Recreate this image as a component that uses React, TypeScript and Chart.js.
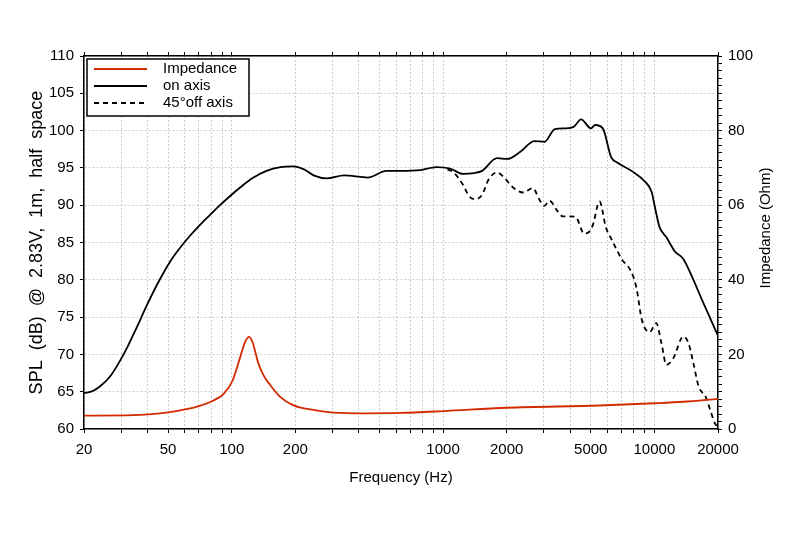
import { useEffect, useRef } from 'react';
import { Chart, registerables } from 'chart.js';

Chart.register(...registerables);

// on-axis SPL response (Hz, dB)
const onAxisFreq = [20, 22, 24, 26.5, 29, 32, 35.5, 40, 45.6, 51, 57, 63, 71, 79, 88, 98, 110, 125, 146, 170, 195, 220, 244, 282, 340, 407, 440, 540, 630, 780, 930, 1080, 1245, 1400, 1530, 1800, 2010, 2330, 2700, 3020, 3380, 3780, 4150, 4500, 5010, 5250, 5700, 6250, 6700, 7900, 9000, 9700, 10100, 10570, 11400, 12500, 13700, 15300, 16800, 18400, 20000];
const onAxisSpl = [64.8, 65.1, 65.8, 67.0, 68.7, 70.9, 73.6, 76.8, 80.0, 82.4, 84.3, 85.8, 87.4, 88.7, 90.0, 91.2, 92.4, 93.6, 94.6, 95.1, 95.2, 94.8, 94.0, 93.6, 94.0, 93.8, 93.7, 94.6, 94.6, 94.7, 95.1, 94.9, 94.2, 94.3, 94.6, 96.3, 96.2, 97.2, 98.6, 98.5, 100.2, 100.3, 100.5, 101.5, 100.3, 100.75, 100.3, 96.4, 95.7, 94.5, 93.2, 91.8, 89.5, 87.1, 85.7, 83.8, 82.8, 80.0, 77.3, 74.8, 72.5];

// 45 degree off-axis response (Hz, dB)
const offAxisFreq = [1050, 1120, 1245, 1330, 1420, 1530, 1640, 1800, 1900, 2160, 2400, 2660, 2850, 3010, 3200, 3440, 3690, 4000, 4250, 4650, 4850, 5110, 5500, 5900, 6250, 6530, 7030, 7700, 8200, 8730, 9500, 10200, 10800, 11400, 12300, 13700, 14500, 15300, 16200, 17500, 18400, 19300, 20000];
const offAxisSpl = [94.8, 94.4, 92.7, 91.2, 90.8, 91.4, 93.4, 94.4, 94.0, 92.3, 91.7, 92.3, 90.8, 89.9, 90.6, 89.4, 88.5, 88.5, 88.4, 86.2, 86.3, 87.3, 90.5, 87.0, 85.5, 84.4, 82.7, 81.3, 79.1, 74.6, 73.0, 74.2, 71.5, 68.6, 69.5, 72.4, 71.5, 68.8, 65.7, 64.3, 62.5, 60.8, 60.2];

// impedance (Hz, Ohm)
const impFreq = [20, 34, 49, 61, 70.6, 81, 91.6, 101, 109.6, 115.6, 121, 126, 133, 141, 152, 169, 195, 244, 303, 434, 626, 1000, 2000, 5500, 10000, 13700, 20000];
const impOhm = [3.6, 3.7, 4.4, 5.3, 6.2, 7.5, 9.4, 13.0, 19.2, 23.3, 24.7, 23.0, 18.0, 14.5, 11.8, 8.7, 6.4, 5.1, 4.4, 4.2, 4.3, 4.8, 5.7, 6.3, 6.9, 7.3, 8.1];

// axis ticks
const freqGridTicks = [20, 30, 40, 50, 60, 70, 80, 90, 100, 200, 300, 400, 500, 600, 700, 800, 900, 1000, 2000, 3000, 4000, 5000, 6000, 7000, 8000, 9000, 10000, 20000];
const freqTickLabels = [20, 50, 100, 200, 1000, 2000, 5000, 10000, 20000];
const impTickValues = [0, 20, 40, 60, 80, 100];
const impTickLabels = ['0', '20', '40', '06', '80', '100'];

const seriesLabels = ['Impedance', 'on axis', '45°off axis'];
const impTitle = 'Impedance (Ohm)';

const FONT = 'Liberation Sans';

const pts = (xs: number[], ys: number[]) => xs.map((x, i) => ({ x, y: ys[i] }));

const legendPlugin = {
  id: 'boxLegend',
  afterDraw(chart: any) {
    const { ctx, chartArea } = chart;
    const x0 = chartArea.left + 3;
    const y0 = chartArea.top + 3;
    const w = 162;
    const h = 57;
    ctx.save();
    ctx.fillStyle = '#fff';
    ctx.fillRect(x0, y0, w, h);
    ctx.strokeStyle = '#000';
    ctx.lineWidth = 1.5;
    ctx.strokeRect(x0, y0, w, h);
    ctx.font = `15px "${FONT}"`;
    ctx.textBaseline = 'middle';
    chart.data.datasets.forEach((ds: any, i: number) => {
      const y = y0 + 10 + i * 17;
      ctx.beginPath();
      ctx.strokeStyle = ds.borderColor;
      ctx.lineWidth = 2;
      ctx.setLineDash(ds.borderDash || []);
      ctx.moveTo(x0 + 7, y);
      ctx.lineTo(x0 + 60, y);
      ctx.stroke();
      ctx.setLineDash([]);
      ctx.fillStyle = '#000';
      ctx.fillText(seriesLabels[i], x0 + 76, y);
    });

    // right axis title, sits a little above centre as in the original
    ctx.translate(chartArea.right + 48, chartArea.top + 172);
    ctx.rotate(-Math.PI / 2);
    ctx.textAlign = 'center';
    ctx.fillText(impTitle, 0, 0);
    ctx.restore();
  },
};

export default function App() {
  const canvasRef = useRef<HTMLCanvasElement>(null);

  useEffect(() => {
    const ctx = canvasRef.current?.getContext('2d');
    if (!ctx) return;

    const gridDash = { color: '#000', width: 1.5, dash: [2, 2] };

    const chart = new Chart(ctx, {
      type: 'line',
      data: {
        datasets: [
          {
            label: seriesLabels[0],
            data: pts(impFreq, impOhm),
            yAxisID: 'y1',
            borderColor: '#d42a00',
            borderWidth: 1.8,
            pointRadius: 0,
            cubicInterpolationMode: 'monotone',
          },
          {
            label: seriesLabels[1],
            data: pts(onAxisFreq, onAxisSpl),
            yAxisID: 'y',
            borderColor: '#000',
            borderWidth: 1.8,
            pointRadius: 0,
            cubicInterpolationMode: 'monotone',
          },
          {
            label: seriesLabels[2],
            data: pts(offAxisFreq, offAxisSpl),
            yAxisID: 'y',
            borderColor: '#000',
            borderWidth: 1.8,
            borderDash: [5, 4],
            pointRadius: 0,
            cubicInterpolationMode: 'monotone',
          },
        ],
      },
      options: {
        animation: false,
        responsive: false,
        maintainAspectRatio: false,
        layout: { padding: 0 },
        plugins: { legend: { display: false }, tooltip: { enabled: false } },
        scales: {
          x: {
            type: 'logarithmic',
            position: 'bottom',
            min: 20,
            max: 20000,
            afterBuildTicks: (s: any) => { s.ticks = freqGridTicks.map((v) => ({ value: v })); },
            afterFit: (s: any) => { s.height = 104; },
            ticks: {
              autoSkip: false,
              maxRotation: 0,
              padding: 8,
              color: '#000',
              font: { family: FONT, size: 15 },
              callback: (v: any) => (freqTickLabels.includes(Number(v)) ? String(v) : ''),
            },
            grid: { color: '#cccccc', tickColor: '#000', tickLength: 4, tickBorderDash: [] },
            border: gridDash,
            title: {
              display: true,
              text: 'Frequency (Hz)',
              color: '#000',
              font: { family: FONT, size: 15 },
              padding: { top: 0, bottom: 46 },
            },
          },
          x2: {
            type: 'logarithmic',
            position: 'top',
            min: 20,
            max: 20000,
            afterBuildTicks: (s: any) => { s.ticks = freqGridTicks.map((v) => ({ value: v })); },
            afterFit: (s: any) => { s.height = 56; },
            ticks: { display: false },
            grid: { drawOnChartArea: false, tickColor: '#000', tickLength: 4 },
            border: { color: '#000', width: 1.5 },
          },
          y: {
            position: 'left',
            min: 60,
            max: 110,
            afterFit: (s: any) => { s.width = 84; },
            ticks: {
              stepSize: 5,
              padding: 6,
              color: '#000',
              font: { family: FONT, size: 15 },
            },
            grid: { color: '#cccccc', tickColor: '#000', tickLength: 4, tickBorderDash: [] },
            border: gridDash,
            title: {
              display: true,
              text: 'SPL  (dB)  @  2.83V,  1m,  half  space',
              color: '#000',
              font: { family: FONT, size: 18 },
              padding: { top: 26, bottom: 0 },
            },
          },
          y1: {
            position: 'right',
            min: 0,
            max: 100,
            afterFit: (s: any) => { s.width = 82; },
            ticks: {
              stepSize: 2,
              autoSkip: false,
              padding: 6,
              color: '#000',
              font: { family: FONT, size: 15 },
              callback: (v: any) => {
                const i = impTickValues.indexOf(Number(v));
                return i >= 0 ? impTickLabels[i] : '';
              },
            },
            grid: { drawOnChartArea: false, tickColor: '#000', tickLength: 4 },
            border: { color: '#000', width: 1.5 },
          },
        },
      },
      plugins: [legendPlugin],
    });

    return () => {
      chart.destroy();
    };
  }, []);

  return (
    <div style={{ width: 800, height: 533, background: '#fff' }}>
      <style>{'body{margin:0}'}</style>
      <canvas ref={canvasRef} width={800} height={533} style={{ display: 'block' }} />
    </div>
  );
}
